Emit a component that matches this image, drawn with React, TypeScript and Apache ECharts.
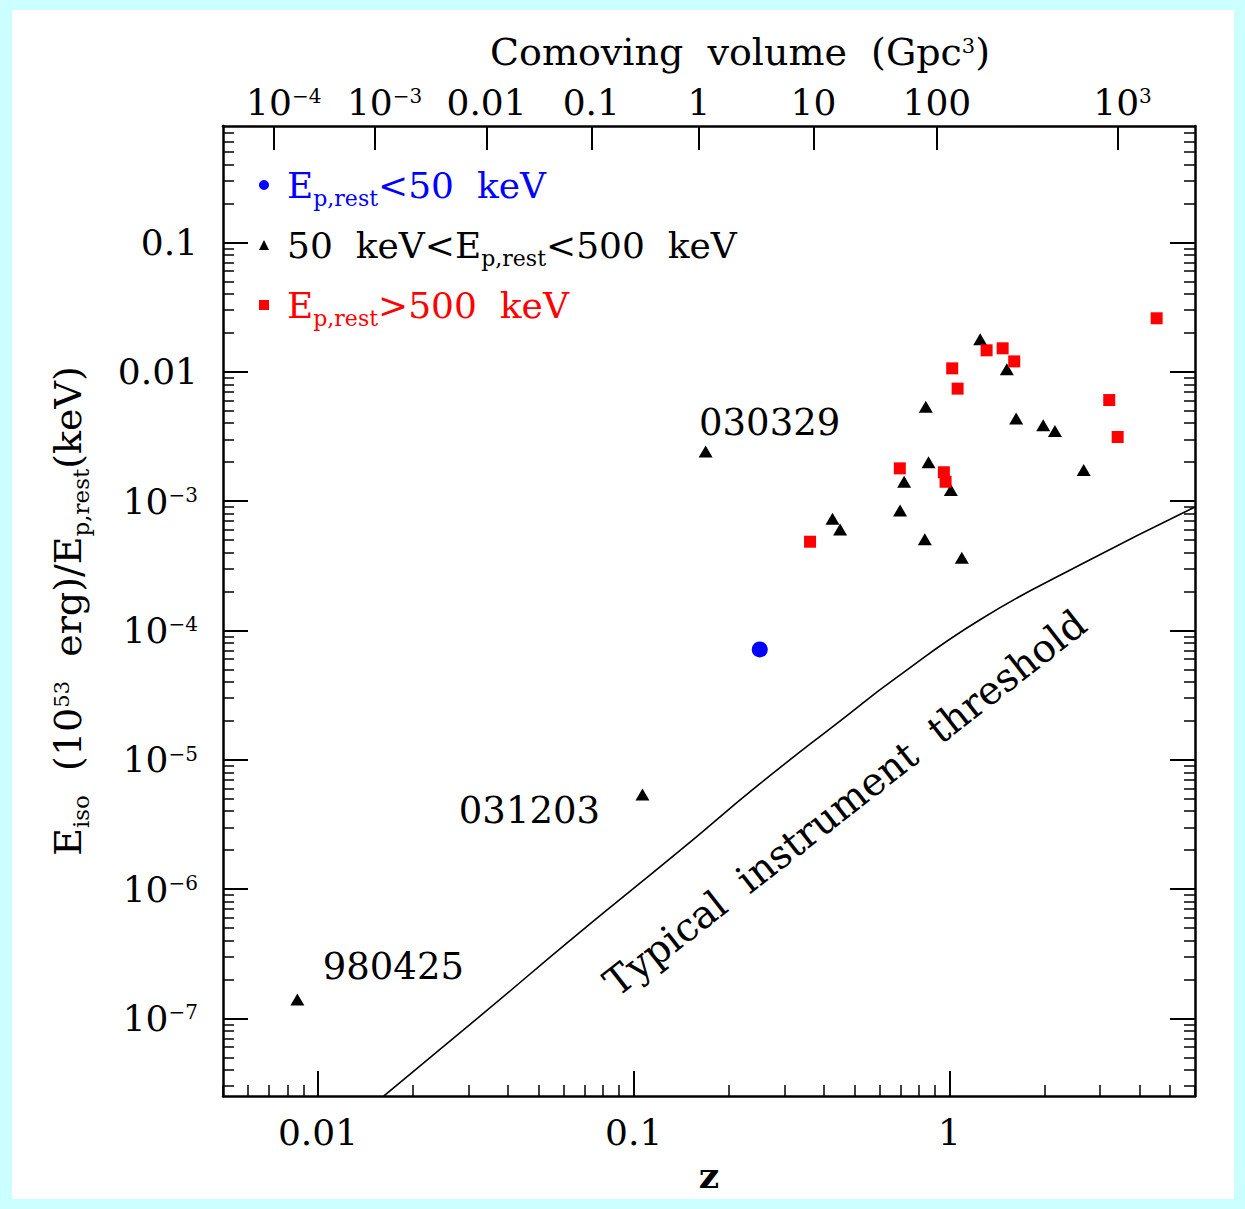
import React, { useEffect, useRef } from "react";
import * as echarts from "echarts";

// ---------------- data ----------------
const FONT = "DejaVu Serif";

// 50 keV < Ep,rest < 500 keV (triangles)
const triNames = ["030329", "031203", "980425", "", "", "", "", "", "", "", "", "", "", "", "", "", "", ""];
const triZ = [0.169, 0.1066, 0.0086, 1.252, 1.521, 0.842, 1.628, 1.983, 2.16, 0.859, 0.719, 1.011, 2.664, 0.4264, 0.4507, 0.698, 0.836, 1.095];
const triE = [2.42e-3, 5.39e-6, 1.4e-7, 0.0178, 0.01044, 5.37e-3, 4.34e-3, 3.85e-3, 3.48e-3, 2.0e-3, 1.41e-3, 1.22e-3, 1.74e-3, 7.31e-4, 6.04e-4, 8.47e-4, 5.06e-4, 3.65e-4];

// Ep,rest > 500 keV (red squares)
const sqZ = [4.536, 1.312, 1.475, 1.605, 1.021, 1.062, 3.21, 3.413, 0.6966, 0.9607, 0.9727, 0.362];
const sqE = [0.0259, 0.01464, 0.01518, 0.01202, 0.01062, 7.4e-3, 6.04e-3, 3.13e-3, 1.79e-3, 1.67e-3, 1.41e-3, 4.85e-4];

// Ep,rest < 50 keV (blue circle)
const circZ = [0.2508];
const circE = [7.13e-5];

// typical instrument threshold
const thrZ = [0.01614, 0.03274, 0.0663, 0.1375, 0.2495, 0.464, 0.668, 1.258, 2.627, 6.0];
const thrE = [2.51e-8, 1.05e-7, 4.46e-7, 1.91e-6, 6.44e-6, 2.11e-5, 4.18e-5, 1.22e-4, 3.26e-4, 9.0e-4];

// axes
const zRange = [0.005, 6];
const eRange = [2.512e-8, 0.7943];
const zTickValues = [0.01, 0.1, 1];
const zTickLabels = ["0.01", "0.1", "1"];
const eTickValues = [0.1, 0.01, 1e-3, 1e-4, 1e-5, 1e-6, 1e-7];
const eTickLabels = ["0.1", "0.01", "10^-3", "10^-4", "10^-5", "10^-6", "10^-7"];
// comoving volume ticks (z where the volume equals the label, Gpc^3)
const volTickZ = [0.00724, 0.0151, 0.0342, 0.0734, 0.161, 0.371, 0.913, 3.41];
const volTickLabels = ["10^-4", "10^-3", "0.01", "0.1", "1", "10", "100", "10^3"];

const S_LOW = "Ep,rest<50 keV";
const S_MID = "50 keV<Ep,rest<500 keV";
const S_HIGH = "Ep,rest>500 keV";

// ---------------- helpers ----------------
const lg = Math.log10;
const X_MIN = lg(zRange[0]);
const X_MAX = lg(zRange[1]);
const Y_MIN = lg(eRange[0]);
const Y_MAX = lg(eRange[1]);

const labelOffsets: Record<string, number[]> = {
  "030329": [64, -29],
  "031203": [-113, 16],
  "980425": [96, -33],
};

function minorTicks(lo: number, hi: number) {
  const out: number[] = [];
  for (let n = -10; n <= 2; n++) {
    for (let k = 2; k <= 9; k++) {
      const v = n + lg(k);
      if (v >= lo - 1e-9 && v <= hi + 1e-9) out.push(v);
    }
  }
  return out;
}

// centerBase: shift power labels so the "10" part sits nearer the tick (as in the original)
function richLabel(label: string, centerBase: boolean) {
  const m = label.match(/^10\^(.+)$/);
  if (!m) return `{b|${label}}`;
  const exp = m[1].replace("-", "\u2212");
  if (!centerBase) return `{b|10}{s|${exp}}`;
  const w = exp.length === 2 ? "L" : "S";
  return `{b${w}|10}{s|${exp}}`;
}

function makeFormatter(values: number[], labels: string[], centerBase: boolean) {
  return (v: number) => {
    for (let i = 0; i < values.length; i++) {
      if (Math.abs(lg(values[i]) - v) < 1e-6) return richLabel(labels[i], centerBase);
    }
    return "";
  };
}

const tickRich = {
  b: { fontFamily: FONT, fontSize: 36, lineHeight: 40, color: "#000" },
  bL: { fontFamily: FONT, fontSize: 36, lineHeight: 40, color: "#000", padding: [0, 0, 0, 20] },
  bS: { fontFamily: FONT, fontSize: 36, lineHeight: 40, color: "#000", padding: [0, 0, 0, 10] },
  s: { fontFamily: FONT, fontSize: 20, lineHeight: 20, verticalAlign: "top", padding: [4, 0, 0, 0], color: "#000" },
};

const legendRich = {
  m: { fontFamily: FONT, fontSize: 36, lineHeight: 48, color: "#000" },
  sub: { fontFamily: FONT, fontSize: 22, lineHeight: 22, verticalAlign: "bottom", color: "#000" },
  mb: { fontFamily: FONT, fontSize: 36, lineHeight: 48, color: "#0000ff" },
  subb: { fontFamily: FONT, fontSize: 22, lineHeight: 22, verticalAlign: "bottom", color: "#0000ff" },
  mr: { fontFamily: FONT, fontSize: 36, lineHeight: 48, color: "#ff0000" },
  subr: { fontFamily: FONT, fontSize: 22, lineHeight: 22, verticalAlign: "bottom", color: "#ff0000" },
};

const legendText: Record<string, string> = {
  [S_LOW]: "{mb|E}{subb|p,rest}{mb|<50  keV}",
  [S_MID]: "{m|50  keV<E}{sub|p,rest}{m|<500  keV}",
  [S_HIGH]: "{mr|E}{subr|p,rest}{mr|>500  keV}",
};

const axisLineStyle = { show: true, onZero: false, lineStyle: { color: "#000", width: 2.5 } };
const noLine = { show: false, onZero: false };

function majorTick(vals: number[], len = 25) {
  return { show: true, inside: true, length: len, customValues: vals, lineStyle: { color: "#000", width: 2 } };
}
function minorTick(vals: number[]) {
  return { show: true, inside: true, length: 11, customValues: vals, lineStyle: { color: "#000", width: 1.5 } };
}

function buildOption() {
  const xMinor = minorTicks(X_MIN, X_MAX);
  const yMinor = minorTicks(Y_MIN, Y_MAX);
  const zMajor = zTickValues.map(lg);
  const eMajor = eTickValues.map(lg);
  const volMajor = volTickZ.map(lg);

  const baseX = { type: "value", min: X_MIN, max: X_MAX, splitLine: { show: false } };
  const baseY = { type: "value", min: Y_MIN, max: Y_MAX, splitLine: { show: false } };

  return {
    animation: false,
    backgroundColor: "transparent",
    grid: { left: 223, right: 50, top: 126, bottom: 113, containLabel: false, outerBoundsMode: "none" },
    legend: {
      orient: "vertical",
      left: 254,
      top: 162,
      itemWidth: 10,
      itemHeight: 10,
      itemGap: 18,
      selectedMode: false,
      data: [S_LOW, S_MID, S_HIGH],
      formatter: (name: string) => legendText[name],
      textStyle: { fontFamily: FONT, fontSize: 36, padding: [0, 0, 0, 13], rich: legendRich },
    },
    xAxis: [
      {
        ...baseX,
        position: "bottom",
        axisLine: axisLineStyle,
        axisTick: majorTick(zMajor),
        axisLabel: {
          show: true,
          customValues: zMajor,
          margin: 16,
          hideOverlap: false,
          showMinLabel: true,
          showMaxLabel: true,
          formatter: makeFormatter(zTickValues, zTickLabels, false),
          rich: tickRich,
        },
        name: "z",
        nameLocation: "middle",
        nameGap: 61,
        nameTextStyle: { fontFamily: FONT, fontSize: 36, fontWeight: "bold", color: "#000" },
      },
      {
        ...baseX,
        position: "bottom",
        axisLine: noLine,
        axisTick: minorTick(xMinor),
        axisLabel: { show: false },
      },
      {
        ...baseX,
        position: "top",
        axisLine: axisLineStyle,
        axisTick: majorTick(volMajor, 24),
        axisLabel: {
          show: true,
          customValues: volMajor,
          margin: 4,
          hideOverlap: false,
          showMinLabel: true,
          showMaxLabel: true,
          formatter: makeFormatter(volTickZ, volTickLabels, true),
          rich: tickRich,
        },
        name: "{t|Comoving  volume  (Gpc}{p|3}{t|)}",
        nameLocation: "middle",
        nameGap: 54,
        nameTextStyle: {
          padding: [0, 0, 0, 62],
          rich: {
            t: { fontFamily: FONT, fontSize: 38, lineHeight: 40, color: "#000" },
            p: { fontFamily: FONT, fontSize: 21, lineHeight: 21, verticalAlign: "top", padding: [3, 0, 0, 0], color: "#000" },
          },
        },
      },
    ],
    yAxis: [
      {
        ...baseY,
        position: "left",
        axisLine: axisLineStyle,
        axisTick: majorTick(eMajor),
        axisLabel: {
          show: true,
          customValues: eMajor,
          margin: 25,
          hideOverlap: false,
          showMinLabel: true,
          showMaxLabel: true,
          formatter: makeFormatter(eTickValues, eTickLabels, false),
          rich: tickRich,
        },
        name: "{m|E}{sub|iso}{m|  (10}{sup|53}{m|  erg)/E}{sub|p,rest}{m|(keV)}",
        nameLocation: "middle",
        nameRotate: 90,
        nameGap: 131,
        nameTextStyle: {
          rich: {
            m: { fontFamily: FONT, fontSize: 38, lineHeight: 48, color: "#000" },
            sub: { fontFamily: FONT, fontSize: 23, lineHeight: 22, verticalAlign: "bottom", color: "#000" },
            sup: { fontFamily: FONT, fontSize: 21, lineHeight: 20, verticalAlign: "top", padding: [7, 0, 0, 0], color: "#000" },
          },
        },
      },
      { ...baseY, position: "left", axisLine: noLine, axisTick: minorTick(yMinor), axisLabel: { show: false } },
      { ...baseY, position: "right", axisLine: axisLineStyle, axisTick: majorTick(eMajor), axisLabel: { show: false } },
      { ...baseY, position: "right", axisLine: noLine, axisTick: minorTick(yMinor), axisLabel: { show: false } },
    ],
    series: [
      {
        name: "threshold",
        type: "line",
        xAxisIndex: 0,
        yAxisIndex: 0,
        data: thrZ.map((z, i) => [lg(z), lg(thrE[i])]),
        showSymbol: false,
        symbol: "none",
        smooth: 0.5,
        silent: true,
        lineStyle: { color: "#000", width: 1.6 },
        z: 1,
      },
      {
        name: S_MID,
        type: "scatter",
        xAxisIndex: 0,
        yAxisIndex: 0,
        symbol: "triangle",
        symbolSize: [14, 12],
        itemStyle: { color: "#000", opacity: 1 },
        data: triZ.map((z, i) => {
          const nm = triNames[i];
          const item: any = { value: [lg(z), lg(triE[i])], name: nm };
          if (nm) {
            item.label = {
              show: true,
              formatter: nm,
              position: "inside",
              offset: labelOffsets[nm],
              fontFamily: FONT,
              fontSize: 37,
              color: "#000",
              opacity: 1,
            };
          }
          return item;
        }),
        z: 3,
      },
      {
        name: S_HIGH,
        type: "scatter",
        xAxisIndex: 0,
        yAxisIndex: 0,
        symbol: "rect",
        symbolSize: 12,
        itemStyle: { color: "#ff0000", opacity: 1 },
        data: sqZ.map((z, i) => [lg(z), lg(sqE[i])]),
        z: 3,
      },
      {
        name: S_LOW,
        type: "scatter",
        xAxisIndex: 0,
        yAxisIndex: 0,
        symbol: "circle",
        symbolSize: 16,
        itemStyle: { color: "#0000ff", opacity: 1 },
        data: circZ.map((z, i) => [lg(z), lg(circE[i])]),
        z: 3,
      },
    ],
    graphic: [
      {
        type: "text",
        x: 845,
        y: 803,
        rotation: (38 * Math.PI) / 180,
        style: {
          text: "Typical  instrument  threshold",
          fontFamily: FONT,
          fontSize: 39,
          fill: "#000",
          align: "center",
          verticalAlign: "middle",
          textAlign: "center",
          textVerticalAlign: "middle",
        },
      },
    ],
  };
}

export default function App() {
  const ref = useRef<HTMLDivElement>(null);
  useEffect(() => {
    document.body.style.margin = "0";
    const chart = echarts.init(ref.current!, null, { renderer: "svg", width: 1245, height: 1209 });
    chart.setOption(buildOption() as any);
    return () => chart.dispose();
  }, []);
  return (
    <div style={{ position: "relative", width: 1245, height: 1209, background: "#ccffff", overflow: "hidden" }}>
      <div style={{ position: "absolute", left: 12, top: 10, width: 1222, height: 1189, background: "#ffffff" }} />
      <div ref={ref} style={{ position: "absolute", left: 0, top: 0, width: 1245, height: 1209 }} />
    </div>
  );
}
